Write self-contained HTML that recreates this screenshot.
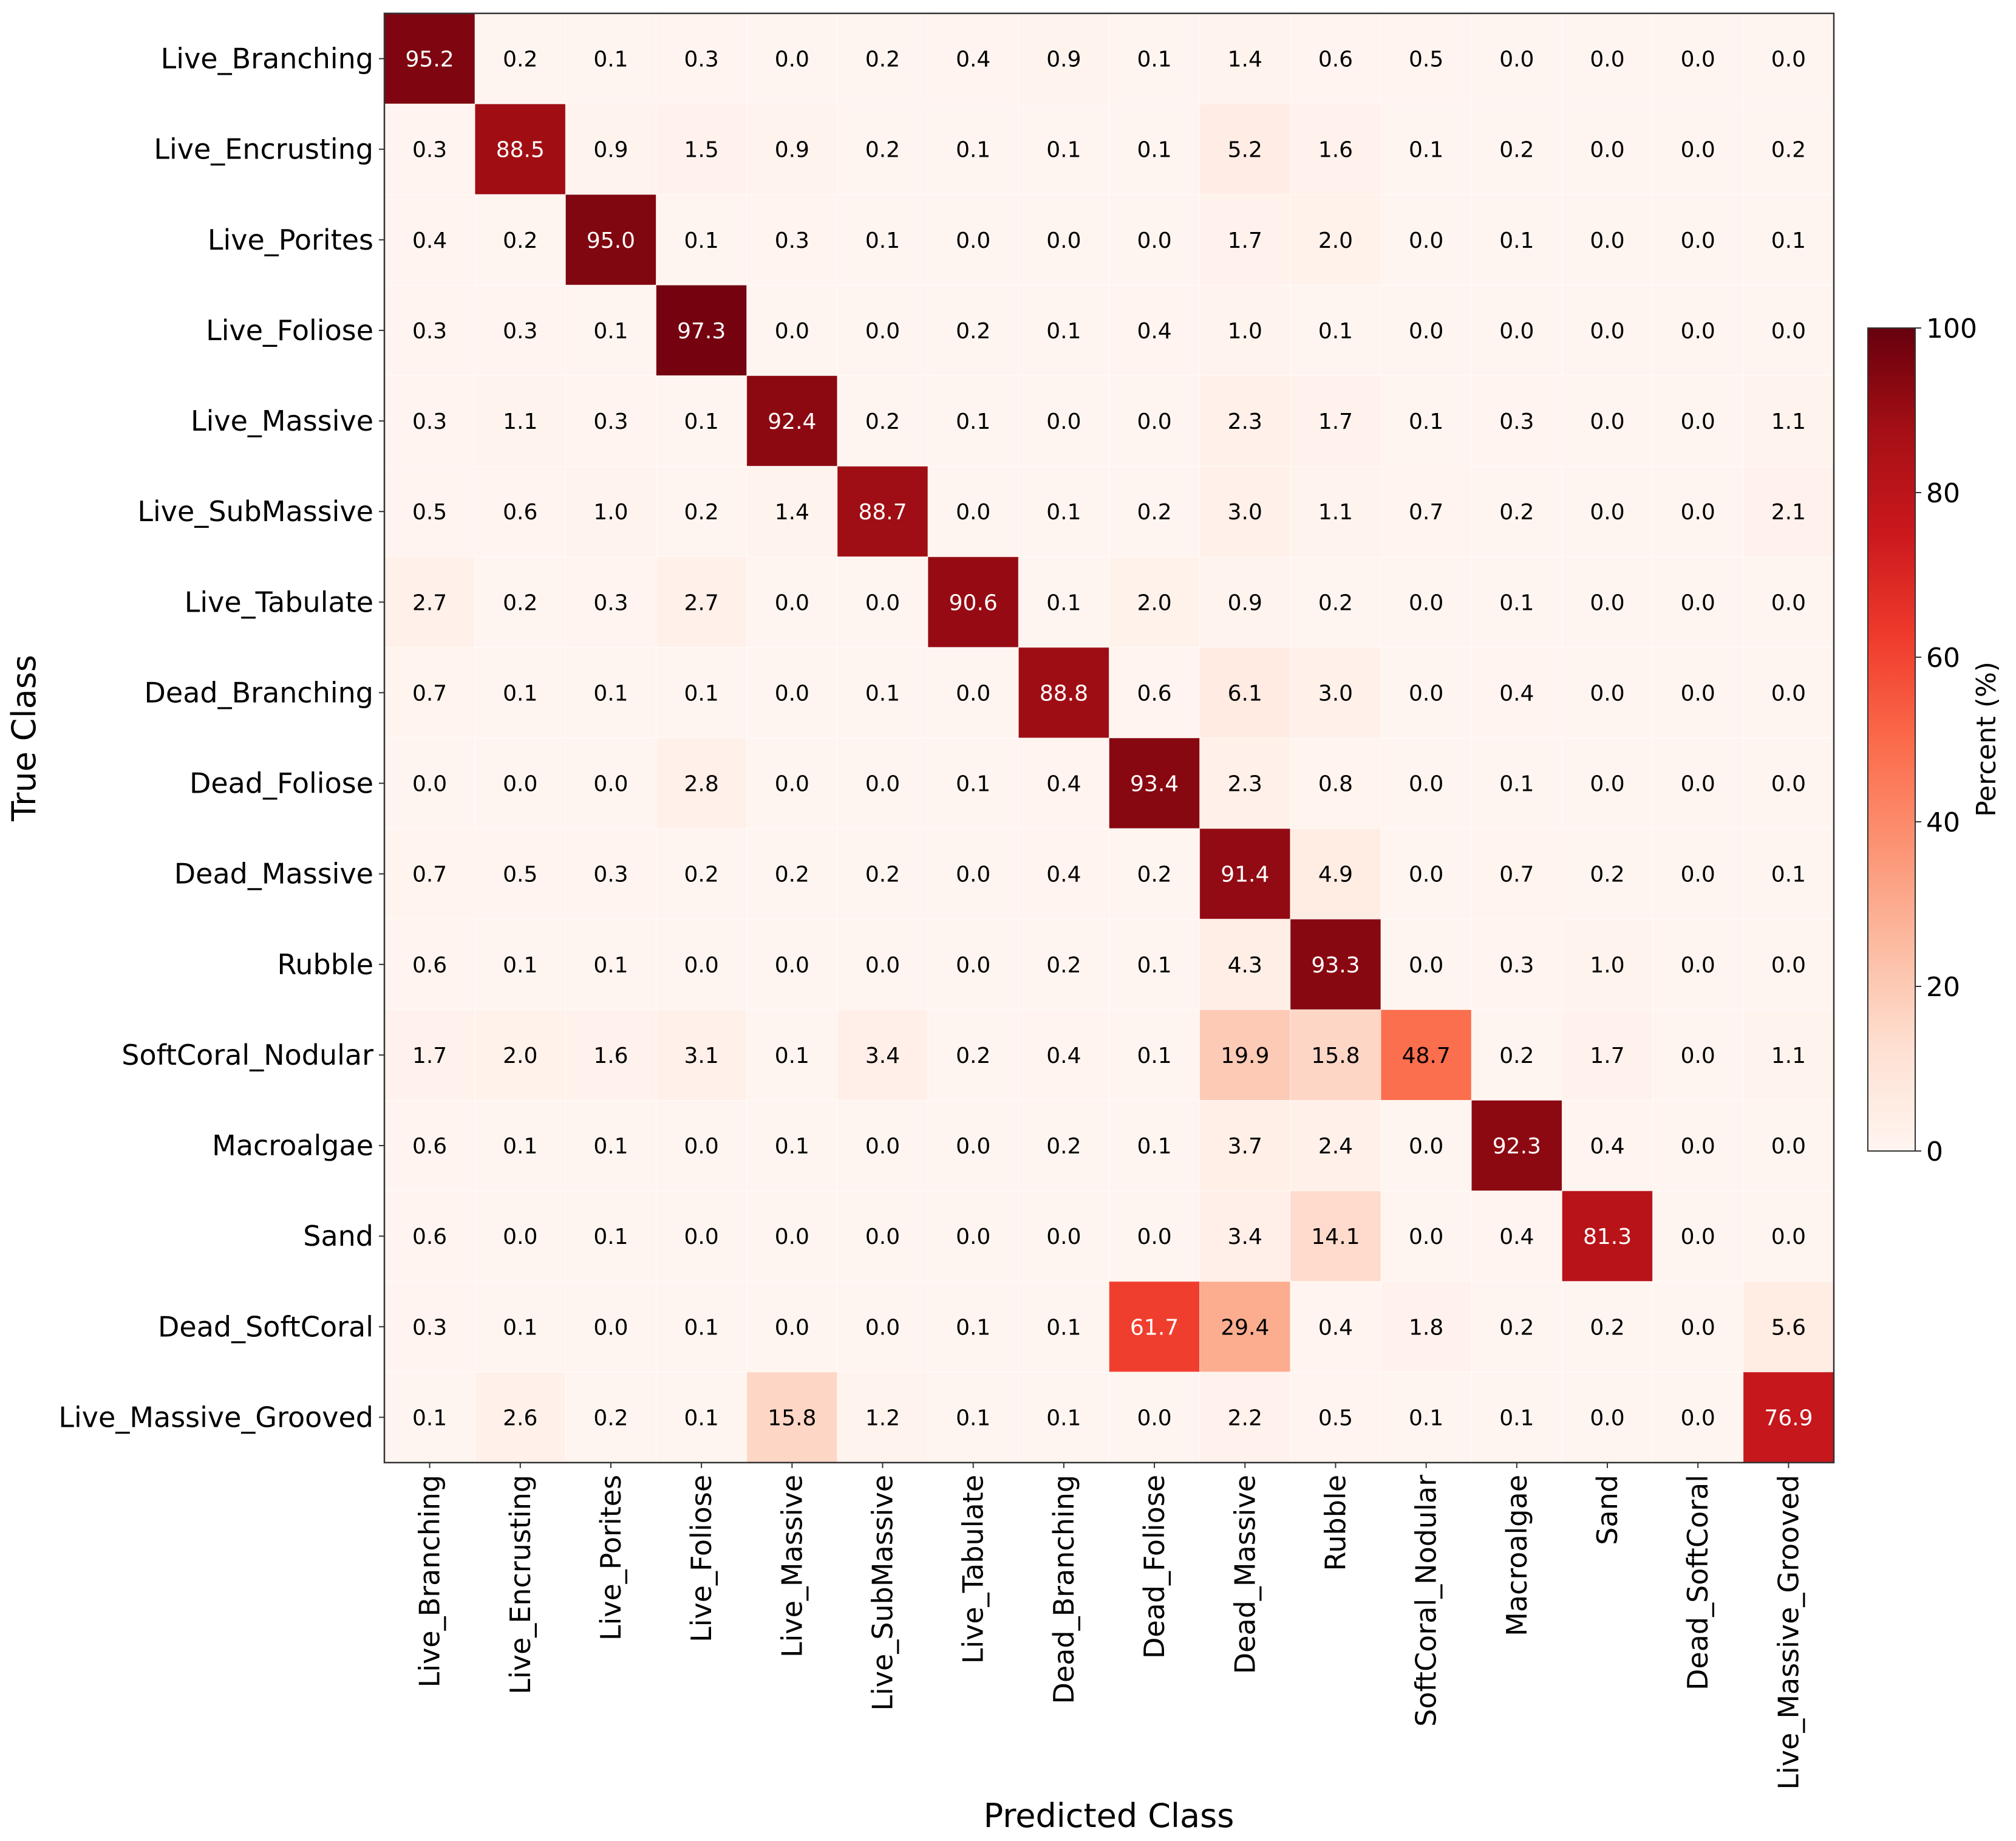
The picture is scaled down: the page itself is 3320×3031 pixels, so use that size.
<!DOCTYPE html>
<html><head><meta charset="utf-8">
<style>
html,body{margin:0;padding:0;background:#fff;}
svg{display:block;font-family:"DejaVu Sans","Liberation Sans",sans-serif;}
</style></head>
<body>
<svg id="chart" width="3320" height="3031" viewBox="0 0 3320 3031" xmlns="http://www.w3.org/2000/svg">
<defs>
<linearGradient id="cbgrad" x1="0" y1="1" x2="0" y2="0">
<stop offset="0" stop-color="#fff5f0"/><stop offset="0.125" stop-color="#fee0d2"/><stop offset="0.25" stop-color="#fcbba1"/><stop offset="0.375" stop-color="#fc9272"/><stop offset="0.5" stop-color="#fb6a4a"/><stop offset="0.625" stop-color="#ef3b2c"/><stop offset="0.75" stop-color="#cb181d"/><stop offset="0.875" stop-color="#a50f15"/><stop offset="1" stop-color="#67000d"/>
</linearGradient>
</defs>
<g id="cells"></g>
<g id="labels"></g>
<rect x="633" y="22" width="2387" height="2386" fill="none" stroke="#333" stroke-width="2.5"/>
<text x="0" y="0" font-size="54" text-anchor="middle" transform="translate(58,1215) rotate(-90)">True Class</text>
<text x="1826" y="3008" font-size="54" text-anchor="middle">Predicted Class</text>
<g id="colorbar">
<rect x="3076" y="540" width="78" height="1355" fill="url(#cbgrad)" stroke="#333" stroke-width="2"/>
</g>
<text x="0" y="0" font-size="44" text-anchor="middle" transform="translate(3286,1217) rotate(-90)">Percent (%)</text>
</svg>
<script>
const classes = ["Live_Branching","Live_Encrusting","Live_Porites","Live_Foliose","Live_Massive","Live_SubMassive","Live_Tabulate","Dead_Branching","Dead_Foliose","Dead_Massive","Rubble","SoftCoral_Nodular","Macroalgae","Sand","Dead_SoftCoral","Live_Massive_Grooved"];
const row0 = [95.2,0.2,0.1,0.3,0.0,0.2,0.4,0.9,0.1,1.4,0.6,0.5,0.0,0.0,0.0,0.0];
const row1 = [0.3,88.5,0.9,1.5,0.9,0.2,0.1,0.1,0.1,5.2,1.6,0.1,0.2,0.0,0.0,0.2];
const row2 = [0.4,0.2,95.0,0.1,0.3,0.1,0.0,0.0,0.0,1.7,2.0,0.0,0.1,0.0,0.0,0.1];
const row3 = [0.3,0.3,0.1,97.3,0.0,0.0,0.2,0.1,0.4,1.0,0.1,0.0,0.0,0.0,0.0,0.0];
const row4 = [0.3,1.1,0.3,0.1,92.4,0.2,0.1,0.0,0.0,2.3,1.7,0.1,0.3,0.0,0.0,1.1];
const row5 = [0.5,0.6,1.0,0.2,1.4,88.7,0.0,0.1,0.2,3.0,1.1,0.7,0.2,0.0,0.0,2.1];
const row6 = [2.7,0.2,0.3,2.7,0.0,0.0,90.6,0.1,2.0,0.9,0.2,0.0,0.1,0.0,0.0,0.0];
const row7 = [0.7,0.1,0.1,0.1,0.0,0.1,0.0,88.8,0.6,6.1,3.0,0.0,0.4,0.0,0.0,0.0];
const row8 = [0.0,0.0,0.0,2.8,0.0,0.0,0.1,0.4,93.4,2.3,0.8,0.0,0.1,0.0,0.0,0.0];
const row9 = [0.7,0.5,0.3,0.2,0.2,0.2,0.0,0.4,0.2,91.4,4.9,0.0,0.7,0.2,0.0,0.1];
const row10 = [0.6,0.1,0.1,0.0,0.0,0.0,0.0,0.2,0.1,4.3,93.3,0.0,0.3,1.0,0.0,0.0];
const row11 = [1.7,2.0,1.6,3.1,0.1,3.4,0.2,0.4,0.1,19.9,15.8,48.7,0.2,1.7,0.0,1.1];
const row12 = [0.6,0.1,0.1,0.0,0.1,0.0,0.0,0.2,0.1,3.7,2.4,0.0,92.3,0.4,0.0,0.0];
const row13 = [0.6,0.0,0.1,0.0,0.0,0.0,0.0,0.0,0.0,3.4,14.1,0.0,0.4,81.3,0.0,0.0];
const row14 = [0.3,0.1,0.0,0.1,0.0,0.0,0.1,0.1,61.7,29.4,0.4,1.8,0.2,0.2,0.0,5.6];
const row15 = [0.1,2.6,0.2,0.1,15.8,1.2,0.1,0.1,0.0,2.2,0.5,0.1,0.1,0.0,0.0,76.9];
const matrix = [row0,row1,row2,row3,row4,row5,row6,row7,row8,row9,row10,row11,row12,row13,row14,row15];
const cbTicks = [0,20,40,60,80,100];

const NS = "http://www.w3.org/2000/svg";
const X0 = 633, Y0 = 22, W = 2387, H = 2386;
const n = classes.length, cw = W / n, ch = H / n;
const xPos = i => X0 + i * cw;
const yPos = j => Y0 + j * ch;
const CB_TOP = 540, CB_BOT = 1895;
const cbY = v => CB_BOT - (v / 100) * (CB_BOT - CB_TOP);
const stops = ["#fff5f0","#fee0d2","#fcbba1","#fc9272","#fb6a4a","#ef3b2c","#cb181d","#a50f15","#67000d"];
function hex(h){return [1,3,5].map(k=>parseInt(h.substr(k,2),16));}
function color(v){
  let t = Math.max(0, Math.min(1, v / 100)) * 8;
  let i = Math.min(7, Math.floor(t)), f = t - i;
  const a = hex(stops[i]), b = hex(stops[i+1]);
  return "rgb(" + a.map((c,k)=>Math.round(c + (b[k]-c)*f)).join(",") + ")";
}
function mk(tag, attrs){const e=document.createElementNS(NS,tag);for(const k in attrs)e.setAttribute(k,attrs[k]);return e;}
const cells = document.getElementById("cells");
const labels = document.getElementById("labels");
matrix.forEach((row, j) => {
  row.forEach((v, i) => {
    const r = mk("rect", {x: xPos(i), y: yPos(j), width: cw, height: ch, fill: color(v), stroke: "#ffffff", "stroke-width": 1, "stroke-opacity": 0.5});
    
    
    cells.appendChild(r);
    const t = mk("text", {x: xPos(i) + cw/2, y: yPos(j) + ch/2 + 13, "font-size": 36, "text-anchor": "middle", fill: v > 50 ? "#ffffff" : "#000000"});
    t.textContent = v.toFixed(1);
    
    
    cells.appendChild(t);
  });
});
classes.forEach((c, j) => {
  const yc = yPos(j) + ch/2;
  const tk = mk("line", {x1: X0 - 9, x2: X0, y1: yc, y2: yc, stroke: "#333", "stroke-width": 2});
  
  
  labels.appendChild(tk);
  const t = mk("text", {x: X0 - 18, y: yc + 16, "font-size": 46, "text-anchor": "end"});
  t.textContent = c;
  
  
  labels.appendChild(t);
});
classes.forEach((c, i) => {
  const xc = xPos(i) + cw/2;
  const tk = mk("line", {x1: xc, x2: xc, y1: Y0 + H, y2: Y0 + H + 9, stroke: "#333", "stroke-width": 2});
  
  
  labels.appendChild(tk);
  const t = mk("text", {x: 0, y: 0, "font-size": 46, "text-anchor": "end", transform: "translate(" + (xc + 16) + "," + (Y0 + H + 20) + ") rotate(-90)"});
  t.textContent = c;
  
  
  labels.appendChild(t);
});
const cb = document.getElementById("colorbar");
cbTicks.forEach(v => {
  const y = cbY(v);
  const tk = mk("line", {x1: 3154, x2: 3164, y1: y, y2: y, stroke: "#333", "stroke-width": 2});
  
  
  cb.appendChild(tk);
  const t = mk("text", {x: 3172, y: y + 16, "font-size": 44});
  t.textContent = String(v);
  
  
  cb.appendChild(t);
});
</script>
</body></html>
